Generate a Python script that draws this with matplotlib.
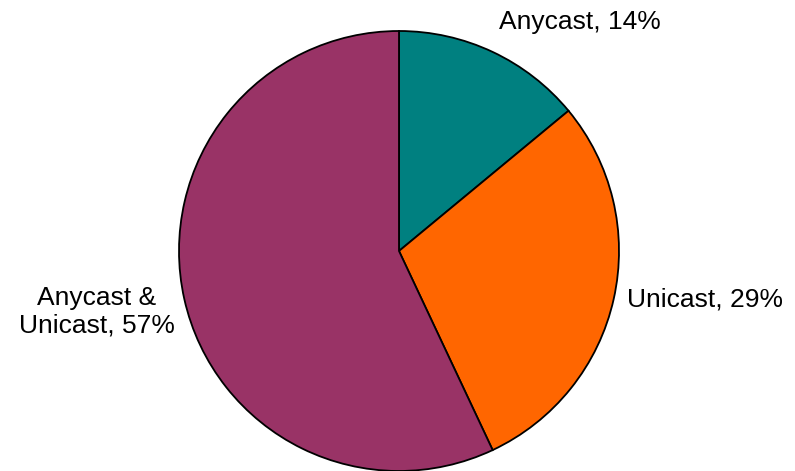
import matplotlib
matplotlib.use("Agg")
import matplotlib.pyplot as plt

labels = ["Anycast, 14%", "Unicast, 29%", "Anycast &\nUnicast, 57%"]
shares = [14, 29, 57]
colors = ["#008080", "#ff6600", "#993366"]

W, H = 795, 471
fig = plt.figure(figsize=(W / 100, H / 100), dpi=100)
ax = fig.add_axes([0, 0, 1, 1])
ax.set_xlim(0, W)
ax.set_ylim(0, H)
ax.axis("off")

# pie centre / radius in pixel units (y measured from bottom)
cx, cy, r = 399, H - 251, 220
ax.pie(shares, colors=colors, startangle=90, counterclock=False,
       center=(cx, cy), radius=r, frame=True,
       wedgeprops=dict(edgecolor="black", linewidth=1.3))
ax.set_xlim(0, W)
ax.set_ylim(0, H)
ax.set_aspect("equal")
ax.axis("off")

font = dict(family=["Liberation Sans", "DejaVu Sans"], fontsize=19, color="black")
ax.text(580, H - 22, labels[0], ha="center", va="center", **font)
ax.text(705, H - 300, labels[1], ha="center", va="center", **font)
ax.text(97, H - 312, labels[2], ha="center", va="center", linespacing=1.2, **font)

fig.savefig("out.png", dpi=100, facecolor="white")
